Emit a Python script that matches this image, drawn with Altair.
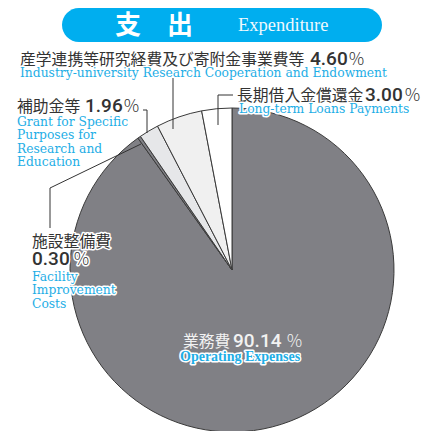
import altair as alt
import pandas as pd

# ---------------- data ----------------
cats_ja = ["業務費", "施設整備費", "補助金等", "産学連携等研究経費及び寄附金事業費等", "長期借入金償還金"]
cats_en = [
    ["Operating Expenses"],
    ["Facility", "Improvement", "Costs"],
    ["Grant for Specific", "Purposes for", "Research and", "Education"],
    ["Industry-university Research Cooperation and Endowment"],
    ["Long-term Loans Payments"],
]
shares = [90.14, 0.30, 1.96, 4.60, 3.00]
title_ja = "支　出"
title_en = "Expenditure"

# ---------------- layout / style ----------------
W, H, M = 442, 439, 8
CX, CY, R = 232, 270, 162
fills = ["#808085", "#808085", "#e6e7e9", "#f0f0f0", "#ffffff"]
ja_pos = [(183, 347), (32, 247), (17, 112), (20, 65), (237, 101)]
num_pos = [(233, 347), (32, 265), (85, 112), (310, 65), (365, 101)]
pct_x = [286, 73, 123, 348, 404]
en_pos = [(180, 361), (32, 281), (17, 126), (20, 77), (239, 113)]
en_step = 13.3
leaders = [
    [(173, 78), (173, 129)],
    [(233, 95), (218, 95), (218, 125)],
    [(143, 110), (147, 110), (147, 133)],
    [(50, 228), (50, 188), (141, 144)],
]
CYAN = "#1eaee6"
DARK = "#333333"

xs = alt.Scale(domain=[M, W - M], range=[0, W - 2 * M], nice=False, zero=False)
ys = alt.Scale(domain=[M, H - M], range=[0, H - 2 * M], nice=False, zero=False)
X = lambda f="x": alt.X(f"{f}:Q", scale=xs, axis=None)
Y = lambda f="y": alt.Y(f"{f}:Q", scale=ys, axis=None)

# pie
pie_df = pd.DataFrame({"cat": cats_ja, "share": shares, "idx": list(range(len(shares))), "fill": fills})
pie = alt.Chart(pie_df).mark_arc(radius=R, stroke="#3a3a3a", strokeWidth=1).encode(
    theta=alt.Theta("share:Q", stack=True),
    order=alt.Order("idx:Q"),
    color=alt.Color("fill:N", scale=None),
    x=alt.value(CX - M),
    y=alt.value(CY - M),
)

# banner
ban_df = pd.DataFrame({"x": [62], "x2": [382], "y": [8], "y2": [42]})
banner = alt.Chart(ban_df).mark_rect(color="#00aeef", cornerRadius=17).encode(
    x=X(), x2="x2:Q", y=Y(), y2="y2:Q"
)
tj = alt.Chart(pd.DataFrame({"t": [title_ja], "x": [115], "y": [34]})).mark_text(
    font="Noto Sans CJK JP", fontSize=26, fontWeight="bold", color="white", align="left", baseline="alphabetic"
).encode(x=X(), y=Y(), text="t:N")
te = alt.Chart(pd.DataFrame({"t": [title_en], "x": [238], "y": [31]})).mark_text(
    font="Liberation Serif", fontSize=18.5, color="#eef9fe", align="left", baseline="alphabetic"
).encode(x=X(), y=Y(), text="t:N")

# leader lines
lrows = []
for i, pts in enumerate(leaders):
    for j, (px, py) in enumerate(pts):
        lrows.append({"id": i, "seq": j, "x": px, "y": py})
lines = alt.Chart(pd.DataFrame(lrows)).mark_line(color=DARK, strokeWidth=1).encode(
    x=X(), y=Y(), detail="id:N", order="seq:Q"
)

# label tables
ja_rows, num_rows, pct_rows, en_rows = [], [], [], []
for i in range(len(cats_ja)):
    ja_rows.append({"t": cats_ja[i], "x": ja_pos[i][0], "y": ja_pos[i][1], "main": i == 0})
    num_rows.append({"t": f"{shares[i]:.2f}", "x": num_pos[i][0], "y": num_pos[i][1], "main": i == 0})
    pct_rows.append({"t": "％", "x": pct_x[i], "y": num_pos[i][1], "main": i == 0})
    for k, line in enumerate(cats_en[i]):
        en_rows.append({"t": line, "x": en_pos[i][0], "y": en_pos[i][1] + k * en_step, "main": i == 0})
ja_df, num_df, pct_df, en_df = (pd.DataFrame(r) for r in (ja_rows, num_rows, pct_rows, en_rows))


def text_layers(df, color, halo=True, **props):
    base = alt.Chart(df).encode(x=X(), y=Y(), text="t:N")
    out = []
    if halo:
        out.append(base.mark_text(align="left", baseline="alphabetic", color="white", stroke="white",
                                  strokeWidth=3, strokeJoin="round", **props))
    out.append(base.mark_text(align="left", baseline="alphabetic", color=color, **props))
    return out


ja_cfg = dict(font="Noto Sans CJK JP", fontSize=15.8)
num_cfg = dict(font="Roboto", fontSize=19, fontWeight=500)
pct_cfg = dict(font="Noto Sans CJK JP", fontSize=17, fontWeight=300)
en_cfg = dict(font="DejaVu Serif", fontSize=12.3)

layers = [pie, banner, tj, te, lines]
layers += text_layers(ja_df[~ja_df.main], DARK, **ja_cfg)
layers += text_layers(num_df[~num_df.main], DARK, **num_cfg)
layers += text_layers(pct_df[~pct_df.main], DARK, **pct_cfg)
layers += text_layers(en_df[~en_df.main], CYAN, **en_cfg)
layers += text_layers(ja_df[ja_df.main], "#f2f2f2", halo=False, **ja_cfg)
layers += text_layers(num_df[num_df.main], "#f2f2f2", halo=False, **num_cfg)
layers += text_layers(pct_df[pct_df.main], "#f2f2f2", halo=False, **pct_cfg)
layers += text_layers(en_df[en_df.main], CYAN, font="Liberation Serif", fontSize=14, fontWeight="bold")

chart = alt.layer(*layers).properties(
    width=W - 2 * M, height=H - 2 * M, padding=0, autosize=alt.AutoSizeParams(type="none")
).configure_view(stroke=None)

chart.save("out.html", embed_options={"renderer": "svg", "actions": False})
